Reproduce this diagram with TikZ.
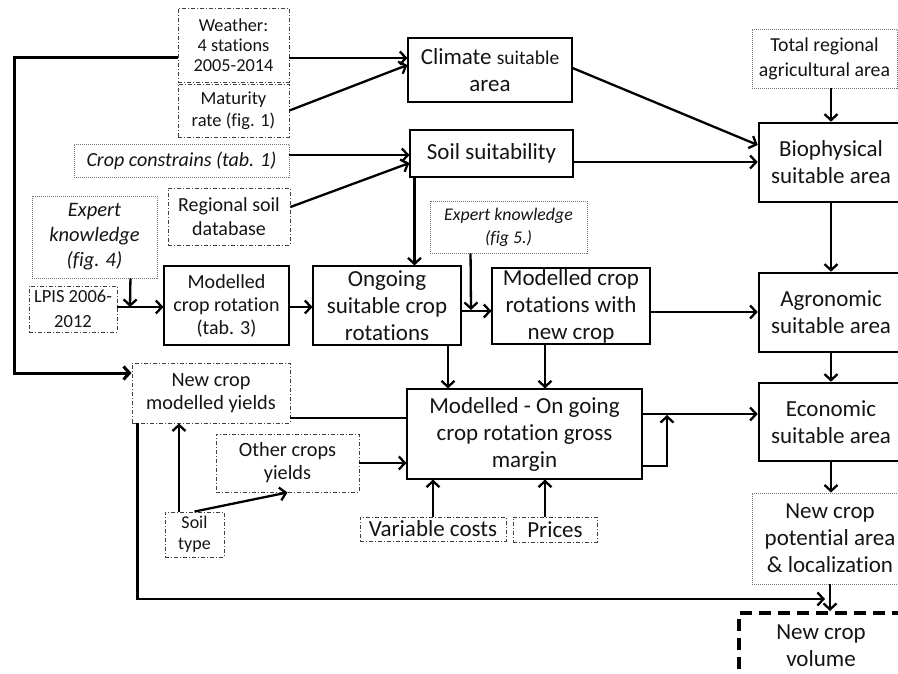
\documentclass[tikz,border=0pt]{standalone}
\usepackage{fontspec}
\setmainfont{Carlito}[Ligatures=NoCommon]
\usetikzlibrary{arrows.meta}
\begin{document}
\begin{tikzpicture}[x=1pt,y=-1pt,
  base/.style={inner sep=0pt, align=center, text=black!92},
  solidbox/.style={base, draw=black, line width=1.1pt},
  thickbox/.style={base, draw=black, line width=2.6pt},
  dotbox/.style={base, draw=black!55, line width=0.9pt, dash pattern=on 1pt off 1pt},
  ddbox/.style={base, draw=black!75, line width=0.9pt, dash pattern=on 4pt off 2pt on 1pt off 2pt},
  volbox/.style={base, draw=black, line width=4pt, dash pattern=on 12pt off 7pt},
  big/.style={font=\fontsize{23}{27}\selectfont},
  arr/.style={line width=2.3pt, -{Straight Barb[length=6pt,width=13pt]}},
  plain/.style={line width=2.3pt},
  heavy/.style={line width=3pt, -{Straight Barb[length=6pt,width=13pt]}}
]
\useasboundingbox (0,0) rectangle (898,674);
\clip (0,0) rectangle (898,674);

% nodes
\node[ddbox, font=\fontsize{18.3}{20}\selectfont, minimum width=111, minimum height=74] (weather) at (233.5,45) {Weather:\\4 stations\\2005-2014};
\node[ddbox, font=\fontsize{18.5}{22}\selectfont, minimum width=111, minimum height=53] (maturity) at (233.5,110.5) {Maturity\\rate (fig. 1)};
\node[solidbox, big, minimum width=164, minimum height=64] (climate) at (490,70) {Climate {\fontsize{19.5}{27}\selectfont suitable}\\area};
\node[dotbox, font=\fontsize{20}{23}\selectfont\itshape, minimum width=215, minimum height=33] (cropcon) at (181.5,160.5) {Crop constrains (tab. 1)};
\node[solidbox, big, minimum width=163, minimum height=47] (soilsuit) at (491.5,153.5) {Soil suitability};
\node[ddbox, font=\fontsize{20}{24}\selectfont, minimum width=122, minimum height=57] (regsoil) at (229,216.5) {Regional soil\\database};
\node[dotbox, font=\fontsize{20.5}{25}\selectfont\itshape, minimum width=125, minimum height=82] (expert4) at (94.5,237) {Expert\\knowledge\\(fig. 4)};
\node[ddbox, font=\fontsize{18.5}{25}\selectfont, minimum width=88, minimum height=46] (lpis) at (73,309) {LPIS 2006-\\2012};
\node[solidbox, font=\fontsize{20}{23}\selectfont, minimum width=125, minimum height=79] (modcr) at (226.5,305.5) {Modelled\\crop rotation\\(tab. 3)};
\node[solidbox, big, minimum width=148, minimum height=79] (ongoing) at (387,305.5) {Ongoing\\suitable crop\\rotations};
\node[dotbox, font=\fontsize{17.8}{23}\selectfont\itshape, minimum width=157, minimum height=52] (expert5) at (508.5,227) {Expert knowledge\\(fig 5.)};
\node[solidbox, big, minimum width=158, minimum height=76] (modnew) at (571,306) {Modelled crop\\rotations with\\new crop};
\node[dotbox, font=\fontsize{19.8}{25}\selectfont, minimum width=145, minimum height=59] (total) at (824.5,58.5) {Total regional\\agricultural area};
\node[thickbox, big, minimum width=144, minimum height=79] (bio) at (831,162.5) {Biophysical\\suitable area};
\node[thickbox, big, minimum width=144, minimum height=79] (agro) at (831,312.5) {Agronomic\\suitable area};
\node[thickbox, big, minimum width=144, minimum height=78] (econ) at (831,422) {Economic\\suitable area};
\node[dotbox, big, minimum width=156, minimum height=91] (potential) at (830,538.5) {New crop\\potential area\\\& localization};
\node[volbox, big, minimum width=164, minimum height=65] (volume) at (821,645.5) {New crop\\volume};
\node[solidbox, big, minimum width=235, minimum height=90] (gm) at (524.5,434) {Modelled - On going\\crop rotation gross\\margin};
\node[ddbox, big, minimum width=146, minimum height=24] (varc) at (433,529) {Variable costs};
\node[ddbox, big, minimum width=84, minimum height=25] (prices) at (555,529.5) {Prices};
\node[ddbox, font=\fontsize{20.3}{23}\selectfont, minimum width=158, minimum height=60] (ncyield) at (211,393) {New crop\\modelled yields};
\node[ddbox, font=\fontsize{20.3}{23}\selectfont, minimum width=143, minimum height=58] (other) at (287.5,463) {Other crops\\yields};
\node[ddbox, font=\fontsize{18}{21}\selectfont, minimum width=59, minimum height=45] (soiltype) at (194.5,534.5) {Soil\\type};

% free-end coordinates
\coordinate (loopc) at (14,373);
\coordinate (j1) at (130,307);
\coordinate (j2) at (471,310);
\coordinate (j3) at (667,415);
\coordinate (j4) at (825,599);

% connectors
\draw[heavy] ([yshift=-13pt]weather.west) -| (loopc) -- ([yshift=20pt]ncyield.west);
\draw[arr] ([yshift=-13pt]weather.east) -- ([yshift=12pt]climate.west);
\draw[arr] (maturity.east) -- ([yshift=5pt]climate.west);
\draw[arr] ([yshift=5.5pt]cropcon.east) -- ([yshift=-1.5pt]soilsuit.west);
\draw[arr] ([yshift=9.5pt]regsoil.east) -- ([yshift=-9.5pt]soilsuit.west);
\draw[arr] ([yshift=2pt]climate.east) -- ([yshift=17.5pt]bio.west);
\draw[arr] ([yshift=-8.5pt]soilsuit.east) -- ([yshift=-8.5pt]soilsuit.east -| bio.west);
\draw[arr] (total.south -| bio.north) -- (bio.north);
\draw[arr] ([xshift=5pt]soilsuit.south west) -- ([xshift=5pt]soilsuit.south west |- ongoing.north);
\draw[arr] ([xshift=-27pt]expert4.south east) -- (j1);
\draw[arr] ([yshift=2pt]lpis.east) -- ([yshift=2pt]lpis.east -| modcr.west);
\draw[arr] ([yshift=-1.5pt]modcr.east) -- ([yshift=-1.5pt]modcr.east -| ongoing.west);
\draw[arr] ([yshift=-5.5pt]ongoing.east) -- ([yshift=-5.5pt]ongoing.east -| modnew.west);
\draw[arr] ([xshift=41pt]expert5.south west) -- (j2);
\draw[arr] ([yshift=-6pt]modnew.east) -- ([yshift=-6pt]modnew.east -| agro.west);
\draw[arr] (bio.south) -- (agro.north);
\draw[arr] (agro.south) -- (econ.north);
\draw[arr] ([xshift=61pt]ongoing.south) -- ([xshift=61pt]ongoing.south |- gm.north);
\draw[arr] ([xshift=-26pt]modnew.south) -- ([xshift=-26pt]modnew.south |- gm.north);
\draw[plain] ([yshift=-25pt]ncyield.east) -- ([yshift=-25pt]ncyield.east -| gm.west);
\draw[arr] (other.east) -- (other.east -| gm.west);
\draw[arr] ([yshift=20pt]gm.east) -- ([yshift=20pt]gm.east -| econ.west);
\draw[arr] ([yshift=-32pt]gm.east) -| (j3);
\draw[arr] (varc.north) -- (varc.north |- gm.south);
\draw[arr] ([xshift=-10pt]prices.north) -- ([xshift=-10pt]prices.north |- gm.south);
\draw[arr] ([xshift=-15.5pt]soiltype.north) -- ([xshift=-15.5pt]soiltype.north |- ncyield.south);
\draw[arr] (soiltype.north) -- (other.south);
\draw[arr] (econ.south) -- (econ.south |- potential.north);
\draw[arr] (potential.south) -- (potential.south |- volume.north);
\draw[arr] ([xshift=6pt]ncyield.south west) |- (j4);
\end{tikzpicture}
\end{document}
